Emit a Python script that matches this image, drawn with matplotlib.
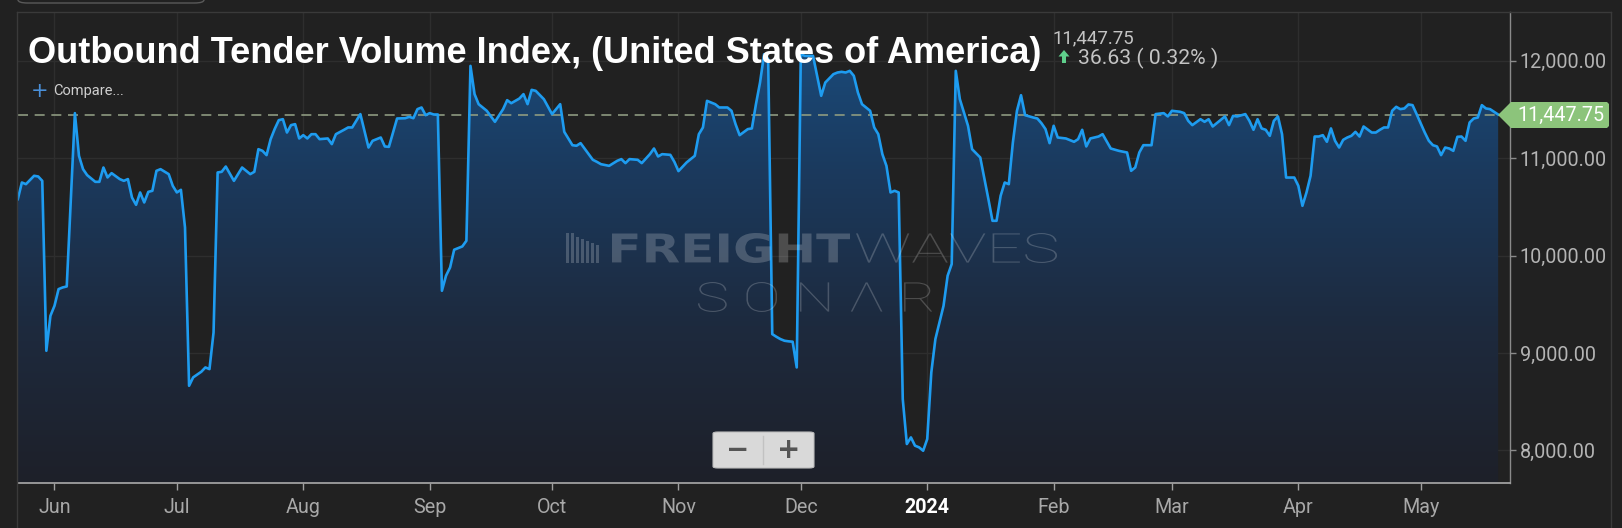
import matplotlib
matplotlib.use("Agg")
import matplotlib.pyplot as plt
import matplotlib.dates as mdates
from matplotlib.patches import FancyBboxPatch, Polygon, Rectangle, PathPatch, FancyArrow
from matplotlib.lines import Line2D
from matplotlib.colors import LinearSegmentedColormap
from matplotlib.textpath import TextPath
from matplotlib.font_manager import FontProperties
from matplotlib.transforms import Affine2D
import numpy as np
import pandas as pd

# ---------------- data ----------------
start_date = "2023-06-01"
day_offsets = [
    -9, -8, -7, -5, -4, -3, -2, -1, 0, 1, 2, 3, 5, 6, 7, 8, 9, 10, 11, 12, 13, 14, 16, 17, 18, 19, 20,
    21, 22, 23, 24, 25, 26, 28, 29, 30, 31, 32, 33, 34, 36, 37, 38, 39, 40, 41, 42, 44, 46, 48, 49,
    50, 51, 52, 53, 54, 55, 56, 57, 58, 59, 60, 61, 62, 63, 64, 65, 67, 68, 69, 71, 72, 73, 75, 77,
    78, 80, 81, 82, 84, 86, 87, 88, 89, 90, 91, 92, 93, 94, 95, 96, 97, 98, 100, 101, 102, 103, 104,
    106, 108, 110, 111, 112, 114, 115, 116, 117, 118, 120, 122, 124, 125, 127, 128, 129, 132, 133,
    134, 136, 138, 139, 140, 141, 143, 144, 146, 147, 148, 149, 151, 152, 153, 155, 157, 158, 159,
    160, 162, 163, 165, 166, 167, 168, 170, 171, 172, 173, 174, 175, 176, 177, 178, 179, 180, 181,
    182, 183, 184, 186, 187, 188, 189, 191, 192, 193, 194, 195, 196, 197, 198, 200, 201, 202, 203,
    204, 205, 206, 207, 208, 209, 210, 211, 212, 213, 214, 215, 216, 218, 219, 220, 221, 222, 224,
    225, 227, 229, 230, 231, 232, 233, 234, 235, 236, 237, 238, 240, 241, 242, 243, 244, 245, 246,
    248, 250, 251, 252, 253, 254, 255, 256, 257, 259, 261, 263, 264, 265, 266, 267, 269, 270, 272,
    273, 274, 276, 277, 278, 279, 281, 282, 283, 284, 286, 287, 288, 289, 290, 292, 293, 294, 295,
    296, 297, 298, 299, 300, 301, 302, 304, 305, 306, 307, 308, 309, 310, 311, 312, 313, 314, 315,
    316, 317, 318, 319, 320, 321, 323, 324, 325, 326, 327, 328, 329, 330, 331, 332, 333, 334, 336,
    337, 338, 339, 340, 341, 342, 343, 344, 345, 346, 347, 348, 349, 350, 351, 352, 353, 354,
]
index_values = [
    10579, 10750, 10733, 10819, 10812, 10767, 9023, 9382, 9485, 9656, 9673, 9683, 11462, 11024,
    10887, 10826, 10791, 10757, 10757, 10904, 10802, 10846, 10785, 10767, 10785, 10596, 10521,
    10648, 10545, 10654, 10665, 10870, 10887, 10836, 10716, 10648, 10675, 10289, 8664, 8750,
    8808, 8852, 8835, 9211, 10853, 10860, 10914, 10767, 10904, 10836, 10860,
    11092, 11075, 11031, 11195, 11300, 11390, 11400, 11263, 11339, 11349, 11202, 11236, 11202,
    11246, 11246, 11195, 11202, 11144, 11246, 11291, 11315, 11315, 11452, 11109,
    11178, 11212, 11120, 11116, 11407, 11410, 11424, 11410, 11503, 11520, 11441, 11462, 11448,
    11448, 9639, 9793, 9878, 10060, 10094, 10152, 11947, 11657, 11554,
    11486, 11373, 11503, 11595, 11564, 11612, 11657, 11554, 11701, 11691, 11605, 11452, 11554,
    11270, 11133, 11127, 11154, 10983, 10962,
    10938, 10921, 10973, 10990, 10949, 10990, 10983, 10949, 11041, 11099, 11017, 11041, 11034,
    10962, 10867, 10956, 11024, 11246, 11315,
    11588, 11554, 11520, 11520, 11486, 11349, 11236, 11298, 11305, 11554, 11776, 12067, 12016,
    9194, 9167, 9143, 9126, 9120, 9116,
    8852, 12067, 12050, 12050, 11845, 11640, 11776, 11862, 11879, 11886, 11879, 11896, 11845,
    11674, 11554, 11486, 11315, 11246, 11041,
    10921, 10648, 10665, 10648, 8527, 8066, 8134, 8049, 8032, 7997, 8117, 8801, 9143, 9485, 9793,
    9913, 11896, 11605, 11332,
    11092, 11007, 10579, 10357, 10357, 10614, 10750, 10733, 11161, 11486, 11646, 11441, 11417,
    11407, 11359, 11298, 11154, 11332, 11212,
    11202, 11168, 11195, 11291, 11120, 11202, 11212, 11222, 11246, 11099, 11075, 11058, 10870,
    10904, 11058, 11133, 11133, 11452, 11462,
    11428, 11486, 11476, 11462, 11383, 11339, 11400, 11373, 11400, 11325, 11393, 11428, 11339,
    11434, 11428, 11452, 11383, 11291, 11400,
    11305, 11291, 11229, 11383, 11428, 11246, 10801, 10801, 10716, 10511, 10648, 10819, 11222,
    11222, 11236, 11168, 11305, 11178, 11109,
    11188, 11212, 11229, 11270, 11222, 11325, 11263, 11263, 11291, 11315, 11315, 11486, 11527,
    11503, 11510, 11551, 11544, 11452, 11263,
    11178, 11133, 11120, 11031, 11109, 11099, 11075, 11219, 11222, 11178, 11366, 11407, 11417,
    11544, 11510, 11503, 11476, 11447.75,
]
title_text = "Outbound Tender Volume Index, (United States of America)"
last_value = 11447.75
change_text = "36.63 ( 0.32% )"
month_ticks = ["2023-06-01", "2023-07-01", "2023-08-01", "2023-09-01", "2023-10-01",
               "2023-11-01", "2023-12-01", "2024-01-01", "2024-02-01", "2024-03-01",
               "2024-04-01", "2024-05-01"]
month_labels = ["Jun", "Jul", "Aug", "Sep", "Oct", "Nov", "Dec", "2024", "Feb", "Mar", "Apr", "May"]
y_ticks = [8000, 9000, 10000, 11000, 12000]

# ---------------- figure ----------------
W, H = 1622, 528
BG = "#212121"
fig = plt.figure(figsize=(W / 100, H / 100), dpi=100, facecolor=BG)

def fx(x):
    return x / W

def fy(y):
    return 1 - y / H

ax_left, ax_right, ax_top, ax_bottom = 18, 1510, 12, 483
ax = fig.add_axes([fx(ax_left), fy(ax_bottom), (ax_right - ax_left) / W, (ax_bottom - ax_top) / H])
ax.set_facecolor(BG)

dates = pd.Timestamp(start_date) + pd.to_timedelta(day_offsets, unit="D")
xnum = mdates.date2num(dates.to_pydatetime())
vals = np.array(index_values, dtype=float)

t0 = mdates.date2num(pd.Timestamp(start_date).to_pydatetime())
xlo, xhi = t0 - 8.95, t0 + 356.9
ylo, yhi = 7666, 12500
ax.set_xlim(xlo, xhi)
ax.set_ylim(ylo, yhi)

# grid
for t in month_ticks:
    ax.axvline(mdates.date2num(pd.Timestamp(t).to_pydatetime()), color="#2e2e2e", lw=1, zorder=0)
for yv in y_ticks:
    ax.axhline(yv, color="#2e2e2e", lw=1, zorder=0)

# gradient fill
poly = ax.fill_between(xnum, vals, ylo, facecolor="none", edgecolor="none")
cmap = LinearSegmentedColormap.from_list("g", ["#1e2029", "#1d2a3e", "#1b3a5e", "#1a4f82"])
grad = np.linspace(0, 1, 256).reshape(-1, 1)
im = ax.imshow(grad, extent=[xlo, xhi, ylo, yhi], origin="lower", aspect="auto",
               cmap=cmap, zorder=1)
im.set_clip_path(poly.get_paths()[0], transform=ax.transData)

# dashed last-value line
ax.axhline(last_value, color="#8e9a80", lw=1.2, dashes=(6, 4), zorder=2)

# line
ax.plot(xnum, vals, color="#1e9cf0", lw=1.9, zorder=3, solid_joinstyle="round")

# spines & ticks
for s in ["left", "top"]:
    ax.spines[s].set_visible(False)
ax.spines["bottom"].set_color("#a0a0a0")
ax.spines["bottom"].set_linewidth(1.3)
ax.spines["right"].set_color("#8a8a8a")
ax.spines["right"].set_linewidth(1.0)

ax.yaxis.tick_right()
ax.set_yticks(y_ticks)
ax.set_yticklabels([f"{v:,.2f}" for v in y_ticks])
ax.tick_params(axis="y", colors="#8a8a8a", length=4, width=1, pad=3,
               labelcolor="#b4b4b4", labelsize=14.2)
ax.set_xticks([mdates.date2num(pd.Timestamp(t).to_pydatetime()) for t in month_ticks])
ax.set_xticklabels(month_labels)
ax.tick_params(axis="x", colors="#a0a0a0", length=5, width=1, pad=6,
               labelcolor="#a8a8a8", labelsize=14.2)
for lab in ax.get_yticklabels() + ax.get_xticklabels():
    lab.set_fontfamily("Roboto")
for lab in ax.get_xticklabels():
    if lab.get_text() == "2024":
        lab.set_color("white")
        lab.set_fontweight("bold")

# watermark (text scaled to its box in the reference)
wm_col = (1, 1, 1, 0.2)

def box_text(s, x0, x1, y_base, cap_h, family, weight):
    tp = TextPath((0, 0), s, size=100, prop=FontProperties(family=family, weight=weight))
    ext = tp.get_extents()
    sx = (x1 - x0) / ext.width
    sy = cap_h / ext.height
    tr = (Affine2D().translate(-ext.x0, -ext.y0).scale(sx, sy)
          .translate(x0, H - y_base).scale(1 / W, 1 / H) + fig.transFigure)
    fig.add_artist(PathPatch(tp, transform=tr, facecolor=wm_col, edgecolor="none"))

box_text("FREIGHT", 612, 850, 263, 30, "DejaVu Sans", "heavy")
box_text("WAVES", 856, 1057, 263, 30, "Roboto", "light")
box_text("S O N \u039b R", 698, 932, 312, 30, "Roboto", "light")
for bx, bh in [(566, 30), (571, 30), (576, 26), (581, 24), (586, 22), (591, 20), (596, 18)]:
    fig.add_artist(Rectangle((fx(bx), fy(263)), 2.5 / W, bh / H, transform=fig.transFigure,
                             facecolor=wm_col, edgecolor="none"))

# container lines
fig.add_artist(Line2D([fx(17), fx(1611)], [fy(12), fy(12)], color="#3a3a3a", lw=1))
fig.add_artist(Line2D([fx(17), fx(17)], [fy(12), 0], color="#3a3a3a", lw=1))
fig.add_artist(Line2D([fx(1611), fx(1611)], [fy(12), 0], color="#3a3a3a", lw=1))
fig.add_artist(FancyBboxPatch((fx(18), fy(3)), (204 - 18) / W, 20 / H,
                              boxstyle="round,pad=0,rounding_size=0.006",
                              transform=fig.transFigure, facecolor="none",
                              edgecolor="#5a5a5a", lw=1))

# title and header texts
fig.text(fx(28), fy(63), title_text, fontsize=26.0, fontweight="bold",
         family="Liberation Sans", color="white", va="baseline", ha="left")
fig.text(fx(1053), fy(43), f"{last_value:,.2f}", fontsize=13.4, family="Roboto",
         color="#c4c4c4", va="baseline", ha="left")
# green up arrow
arrow_pts = [(1064, 50), (1058.5, 56.5), (1062, 56.5), (1062, 63), (1066, 63), (1066, 56.5), (1069.5, 56.5)]
fig.add_artist(Polygon([(fx(a), fy(b)) for a, b in arrow_pts], closed=True,
                       transform=fig.transFigure, facecolor="#5fd08c", edgecolor="none"))
fig.text(fx(1078), fy(64), change_text, fontsize=15.2, family="Roboto",
         color="#c4c4c4", va="baseline", ha="left")
fig.text(fx(31), fy(97), "+", fontsize=15, family="DejaVu Sans", color="#4a90d9",
         va="baseline", ha="left")
fig.text(fx(53), fy(95), "Compare...", fontsize=10.5, family="Roboto", color="#cfcfcf",
         va="baseline", ha="left")

# last-value green tag
tag_pts = [(1498, 115), (1511, 102), (1607, 102), (1609, 104), (1609, 126), (1607, 128), (1511, 128)]
fig.add_artist(Polygon([(fx(a), fy(b)) for a, b in tag_pts], closed=True,
                       transform=fig.transFigure, facecolor="#8cc47b", edgecolor="none"))
fig.text(fx(1561), fy(115), f"{last_value:,.2f}", fontsize=14.2, family="Roboto",
         color="white", va="center", ha="center")

# zoom buttons
fig.add_artist(FancyBboxPatch((fx(713), fy(468)), (814 - 713) / W, 36 / H,
                              boxstyle="round,pad=0,rounding_size=0.003",
                              transform=fig.transFigure, facecolor="#d9d9d9",
                              edgecolor="#bdbdbd", lw=0.8))
fig.add_artist(Line2D([fx(763), fx(763)], [fy(436), fy(464)], color="#c2c2c2", lw=1))
fig.text(fx(738), fy(450), "\u2212", fontsize=20, family="DejaVu Sans", fontweight="bold",
         color="#555555", va="center", ha="center")
fig.text(fx(789), fy(450), "+", fontsize=20, family="DejaVu Sans", fontweight="bold",
         color="#555555", va="center", ha="center")

fig.savefig("out.png", dpi=100, facecolor=BG)
